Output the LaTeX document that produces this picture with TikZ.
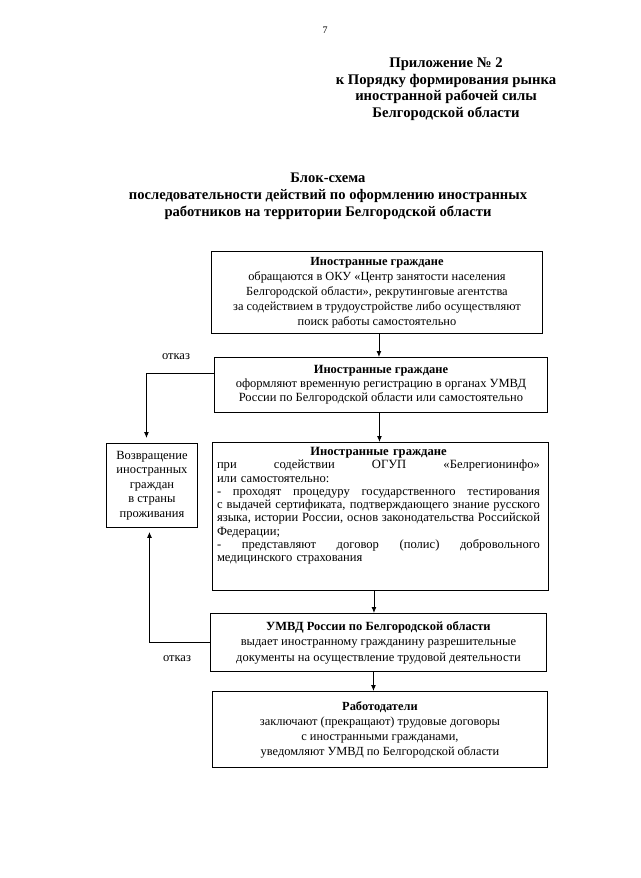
\documentclass[tikz,border=0pt]{standalone}
\usepackage{fontspec}
\setmainfont{Liberation Serif}
\usetikzlibrary{arrows.meta}
\newcommand{\jline}[1]{\leavevmode\hbox to 323pt{\spaceskip=0.25em plus 1fil minus 0.1em\relax #1}}
\begin{document}
\begin{tikzpicture}[x=1pt,y=-1pt,
  box/.style={draw, line width=0.9pt, anchor=north west, inner sep=0pt, align=center},
  txt/.style={inner sep=0pt},
  arr/.style={line width=0.9pt, -{Latex[length=6pt,width=5pt]}},
  lbl/.style={font=\fontsize{12.5}{14}\selectfont, inner sep=0pt},
  hdr/.style={font=\bfseries\fontsize{14.7}{16.5}\selectfont, align=center, inner sep=0pt}]
\path[use as bounding box, fill=white] (0,0) rectangle (640,878);

% page number and headers
\node[txt, font=\fontsize{10}{12}\selectfont] (pg) at (325,30) {7};
\node[hdr, anchor=north] (h1) at (446,58) {Приложение № 2\\к Порядку формирования рынка\\иностранной рабочей силы\\Белгородской области};
\node[hdr, anchor=north, font=\bfseries\fontsize{14.6}{17}\selectfont] (h2) at (328,173) {Блок-схема\\последовательности действий по оформлению иностранных\\работников на территории Белгородской области};

% boxes
\node[box, minimum width=331pt, minimum height=82pt, font=\fontsize{12.4}{15}\selectfont] (b1) at (211,251)
 {\textbf{Иностранные граждане}\\обращаются в ОКУ «Центр занятости населения\\Белгородской области», рекрутинговые агентства\\за содействием в трудоустройстве либо осуществляют\\поиск работы самостоятельно};

\node[box, minimum width=333pt, minimum height=55pt, font=\fontsize{12.5}{14.2}\selectfont] (b2) at (214,357)
 {\textbf{Иностранные граждане}\\оформляют временную регистрацию в органах УМВД\\России по Белгородской области или самостоятельно};

\node[box, minimum width=336pt, minimum height=148pt] (b3) at (212,442) {};
\node[txt, anchor=north, text width=323pt, align=left, font=\fontsize{12.6}{13.3}\selectfont] (t3) at (378.5,447)
 {\centerline{\textbf{Иностранные граждане}}
  \jline{при содействии ОГУП «Белрегионинфо»}\\
  или самостоятельно:\\
  \jline{- проходят процедуру государственного тестирования}\\
  \jline{с выдачей сертификата, подтверждающего знание русского}\\
  \jline{языка, истории России, основ законодательства Российской}\\
  Федерации;\\
  \jline{- представляют договор (полис) добровольного}\\
  медицинского страхования};

\node[box, minimum width=91pt, minimum height=84pt, font=\fontsize{12.5}{14.6}\selectfont] (b4) at (106,443)
 {Возвращение\\иностранных\\граждан\\в страны\\проживания};

\node[box, minimum width=336pt, minimum height=58pt, font=\fontsize{12.5}{15.5}\selectfont] (b5) at (210,613)
 {\textbf{УМВД России по Белгородской области}\\выдает иностранному гражданину разрешительные\\документы на осуществление трудовой деятельности};

\node[box, minimum width=335pt, minimum height=76pt, font=\fontsize{12.4}{15}\selectfont] (b6) at (212,691)
 {\textbf{Работодатели}\\заключают (прекращают) трудовые договоры\\с иностранными гражданами,\\уведомляют УМВД по Белгородской области};

% connectors
\draw[arr] ([xshift=2pt]b1.south) -- ([xshift=2pt]b1.south |- b2.north);
\draw[arr] ([xshift=-1.5pt]b2.south) -- ([xshift=-1.5pt]b2.south |- b3.north);
\draw[arr] ([xshift=-6.5pt]b3.south) -- ([xshift=-6.5pt]b3.south |- b5.north);
\draw[arr] ([xshift=-5pt]b5.south) -- ([xshift=-5pt]b5.south |- b6.north);
\draw[arr, shorten >=5pt] ([yshift=12pt]b2.west) -| ([xshift=-5.5pt]b4.north);
\draw[arr, shorten >=4pt] (b5.west) -| ([xshift=-2.5pt]b4.south);

\node[lbl] (r1) at (176,357) {отказ};
\node[lbl] (r2) at (177,659) {отказ};
\end{tikzpicture}
\end{document}
